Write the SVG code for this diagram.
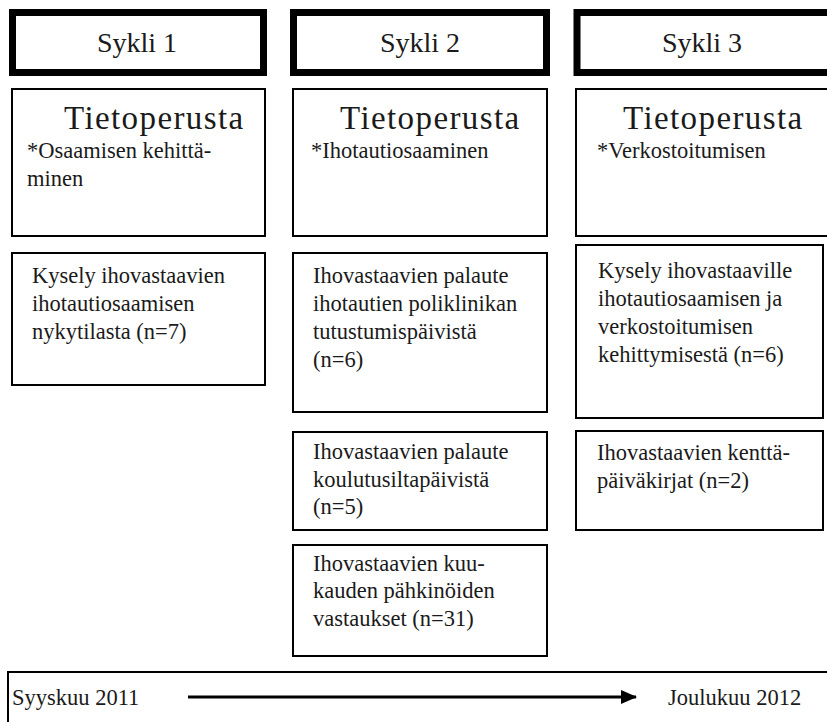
<svg xmlns="http://www.w3.org/2000/svg" width="827" height="722" viewBox="0 0 827 722">
  <style>
    .hdr { fill: #fff; stroke: #000; stroke-width: 7; }
    .box { fill: #fff; stroke: #000; stroke-width: 2; }
    .h1 { font-family: "Liberation Serif", "Times New Roman", serif; fill: #1a1a1a; font-size: 28px; text-anchor: middle; }
    .h2 { font-family: "Liberation Serif", "Times New Roman", serif; fill: #1a1a1a; font-size: 33px; letter-spacing: 1.4px; }
    .b { font-family: "Liberation Serif", "Times New Roman", serif; fill: #1a1a1a; font-size: 22.5px; }
  </style>
  <defs>
    <marker id="arrowhead" markerWidth="16" markerHeight="14" refX="15" refY="7" orient="auto" markerUnits="userSpaceOnUse">
      <path d="M0,0 L16,7 L0,14 Z" fill="#000"/>
    </marker>
  </defs>

  <!-- cycle headers -->
  <g id="sykli1">
    <rect class="hdr" x="12.5" y="12.5" width="251" height="60"/>
    <text class="h1" x="137" y="52">Sykli 1</text>
  </g>
  <g id="sykli2">
    <rect class="hdr" x="293.5" y="12.5" width="253" height="60"/>
    <text class="h1" x="420" y="52">Sykli 2</text>
  </g>
  <g id="sykli3">
    <rect class="hdr" x="577" y="12.5" width="260" height="60"/>
    <text class="h1" x="702" y="52">Sykli 3</text>
  </g>

  <!-- cycle 1 -->
  <g id="tieto1">
    <rect class="box" x="12" y="89" width="253" height="147"/>
    <text class="h2" x="64" y="129">Tietoperusta</text>
    <text class="b" x="27" y="158">*Osaamisen kehittä-</text>
    <text class="b" x="27" y="186">minen</text>
  </g>
  <g id="kysely1">
    <rect class="box" x="12" y="253" width="253" height="132"/>
    <text class="b" x="32" y="283">Kysely ihovastaavien</text>
    <text class="b" x="32" y="311">ihotautiosaamisen</text>
    <text class="b" x="32" y="339">nykytilasta (n=7)</text>
  </g>

  <!-- cycle 2 -->
  <g id="tieto2">
    <rect class="box" x="293" y="89" width="254" height="147"/>
    <text class="h2" x="340" y="129">Tietoperusta</text>
    <text class="b" x="311" y="158">*Ihotautiosaaminen</text>
  </g>
  <g id="palaute-poli">
    <rect class="box" x="293" y="253" width="254" height="159"/>
    <text class="b" x="313" y="283">Ihovastaavien palaute</text>
    <text class="b" x="313" y="311">ihotautien poliklinikan</text>
    <text class="b" x="313" y="339">tutustumispäivistä</text>
    <text class="b" x="313" y="367">(n=6)</text>
  </g>
  <g id="palaute-koulutus">
    <rect class="box" x="293" y="432" width="254" height="98"/>
    <text class="b" x="313" y="459">Ihovastaavien palaute</text>
    <text class="b" x="313" y="487">koulutusiltapäivistä</text>
    <text class="b" x="313" y="514">(n=5)</text>
  </g>
  <g id="pahkinat">
    <rect class="box" x="293" y="545" width="254" height="111"/>
    <text class="b" x="313" y="571">Ihovastaavien kuu-</text>
    <text class="b" x="313" y="598">kauden pähkinöiden</text>
    <text class="b" x="313" y="626">vastaukset (n=31)</text>
  </g>

  <!-- cycle 3 -->
  <g id="tieto3">
    <rect class="box" x="576" y="89" width="260" height="147"/>
    <text class="h2" x="623" y="129">Tietoperusta</text>
    <text class="b" x="597" y="158">*Verkostoitumisen</text>
  </g>
  <g id="kysely3">
    <rect class="box" x="576" y="245" width="247" height="173"/>
    <text class="b" x="598" y="278">Kysely ihovastaaville</text>
    <text class="b" x="598" y="306">ihotautiosaamisen ja</text>
    <text class="b" x="598" y="334">verkostoitumisen</text>
    <text class="b" x="598" y="362">kehittymisestä (n=6)</text>
  </g>
  <g id="kenttapaivakirjat">
    <rect class="box" x="576" y="431" width="247" height="99"/>
    <text class="b" x="597" y="460">Ihovastaavien kenttä-</text>
    <text class="b" x="597" y="488">päiväkirjat (n=2)</text>
  </g>

  <!-- timeline -->
  <g id="aikajana">
    <rect class="box" x="8" y="672" width="830" height="60"/>
    <text class="b" x="12" y="705">Syyskuu 2011</text>
    <text class="b" x="668" y="705">Joulukuu 2012</text>
  </g>

  <g id="connectors">
    <line x1="188" y1="697" x2="636" y2="697" stroke="#000" stroke-width="2.8" marker-end="url(#arrowhead)"/>
  </g>
</svg>
